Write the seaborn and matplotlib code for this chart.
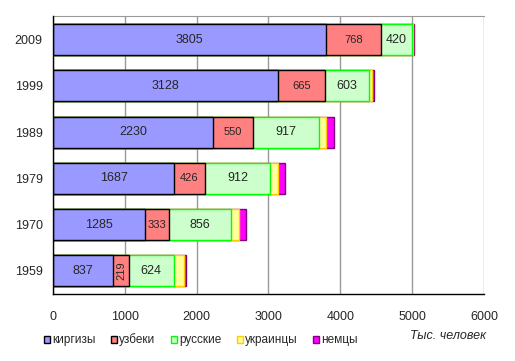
import matplotlib.pyplot as plt
import seaborn as sns
import pandas as pd
import numpy as np
from matplotlib.patches import Patch

# Population of Kyrgyzstan by nationality, thousand people
years = ['2009', '1999', '1989', '1979', '1970', '1959']
kyrgyz = [3805, 3128, 2230, 1687, 1285, 837]
uzbek = [768, 665, 550, 426, 333, 219]
russian = [420, 603, 917, 912, 856, 624]
ukrainian = [22, 50, 108, 110, 120, 137]
german = [9, 21, 101, 101, 90, 40]

groups = ['киргизы', 'узбеки', 'русские', 'украинцы', 'немцы']
FACE = ['#9999FF', '#FF8080', '#CCFFCC', '#FFFF99', '#FF00FF']
EDGE = ['#000000', '#000000', '#00FF00', '#FFCC00', '#800080']

sns.set_style('white')
plt.rcParams['font.family'] = ['Liberation Sans', 'DejaVu Sans']

df = pd.DataFrame({'year': years, 'киргизы': kyrgyz, 'узбеки': uzbek,
                   'русские': russian, 'украинцы': ukrainian, 'немцы': german})
cum = df[groups].cumsum(axis=1)

fig = plt.figure(figsize=(5.15, 3.61), dpi=100)
ax = fig.add_axes([0.1029, 0.1856, 0.8369, 0.7687])

# stacked bars: draw cumulative totals from the outermost segment inward
for i in range(len(groups) - 1, -1, -1):
    sns.barplot(x=cum[groups[i]], y=df['year'], order=years, orient='h',
                color=FACE[i], edgecolor=EDGE[i], linewidth=1.0,
                width=0.67, saturation=1, ax=ax, zorder=3)

# segment labels for the three largest groups
for i in range(3):
    for j, yr in enumerate(years):
        val = df[groups[i]][j]
        start = cum[groups[i]][j] - val
        mid = start + val / 2
        if i == 1 and val < 300:
            ax.text(mid, j, str(val), ha='center', va='center', fontsize=8,
                    rotation=90, zorder=5)
        else:
            ax.text(mid, j, str(val), ha='center', va='center',
                    fontsize=8 if i == 1 else 9, zorder=5)

ax.set_xlim(0, 6000)
ax.set_ylim(5.5, -0.5)
ax.set_xticks(np.arange(0, 6001, 1000))
ax.tick_params(axis='y', labelsize=9, length=0, pad=7.5)
ax.tick_params(axis='x', labelsize=9, length=0, pad=12)
ax.xaxis.grid(True, color='#999999', linewidth=1.0, zorder=0)
ax.set_axisbelow(True)
ax.set_xlabel('')
ax.set_ylabel('')
for s in ['left', 'bottom']:
    ax.spines[s].set_color('black')
    ax.spines[s].set_linewidth(1.0)
ax.spines['top'].set_color('#999999')
ax.spines['right'].set_visible(False)
ax.spines['top'].set_visible(True)
ax.spines['left'].set_zorder(6)

handles = [Patch(facecolor=FACE[k], edgecolor=EDGE[k], linewidth=1.0, label=groups[k])
           for k in range(len(groups))]
fig.legend(handles=handles, loc='center left', bbox_to_anchor=(44 / 515, 1 - 340 / 361),
           ncol=5, fontsize=8.5, frameon=False, handlelength=0.5, handleheight=0.5,
           handletextpad=0.2, columnspacing=1.3, borderaxespad=0, borderpad=0)
fig.text(448 / 515, 1 - 336 / 361, 'Тыс. человек', ha='center', va='center',
         fontsize=9, style='italic')

fig.savefig('out.png', dpi=100)
